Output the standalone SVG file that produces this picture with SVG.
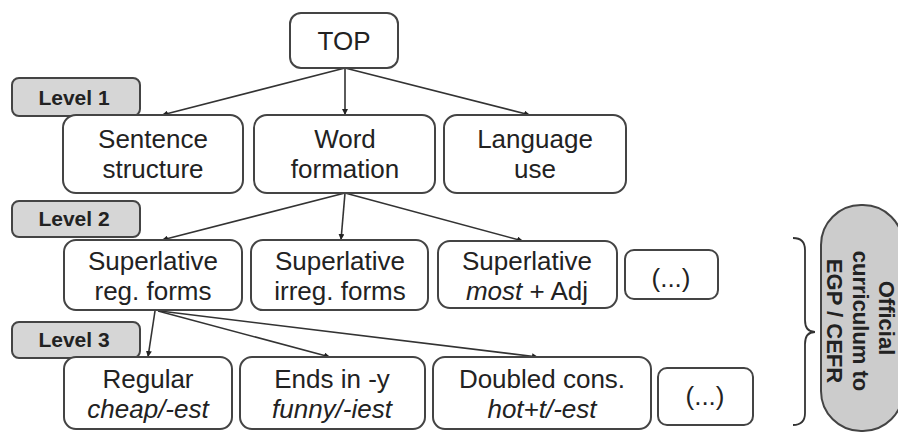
<svg xmlns="http://www.w3.org/2000/svg" width="898" height="434" viewBox="0 0 898 434">
<style>
.node{fill:#fff;stroke:#444;stroke-width:2}
.tab{fill:#d6d6d6;stroke:#444;stroke-width:2}
.t{font-family:"Liberation Sans",Arial,sans-serif;font-size:26px;fill:#222;text-anchor:middle}
.i{font-style:italic}
.lv{font-family:"Liberation Sans",Arial,sans-serif;font-size:21px;font-weight:bold;fill:#222;text-anchor:middle}
.pt{font-family:"Liberation Sans",Arial,sans-serif;font-size:22px;font-weight:bold;fill:#222;text-anchor:middle}
.e{fill:none;stroke:#333;stroke-width:1.6;marker-end:url(#ah)}
</style>
<defs>
<marker id="ah" viewBox="0 0 10 10" refX="10" refY="5" markerWidth="6" markerHeight="6" markerUnits="userSpaceOnUse" orient="auto">
<path d="M0,0 L10,5 L0,10 z" fill="#222"/>
</marker>
</defs>
<rect width="898" height="434" fill="#fff"/>
<g id="tabs">
<g id="level1"><rect class="tab" x="12" y="78" width="128" height="38" rx="7"/><text class="lv" x="74" y="105">Level 1</text></g>
<g id="level2"><rect class="tab" x="12" y="201" width="128" height="36" rx="7"/><text class="lv" x="74" y="226">Level 2</text></g>
<g id="level3"><rect class="tab" x="12" y="322" width="128" height="36" rx="7"/><text class="lv" x="74" y="347">Level 3</text></g>
</g>
<g id="connectors">
<line class="e" x1="345" y1="68" x2="162" y2="115"/>
<line class="e" x1="345" y1="68" x2="345" y2="115"/>
<line class="e" x1="345" y1="68" x2="530" y2="115"/>
<line class="e" x1="345" y1="193" x2="162" y2="240"/>
<line class="e" x1="345" y1="193" x2="341" y2="240"/>
<line class="e" x1="345" y1="193" x2="523" y2="241"/>
<line class="e" x1="155" y1="311" x2="148" y2="357"/>
<line class="e" x1="158" y1="311" x2="330" y2="357"/>
<line class="e" x1="160" y1="311" x2="538" y2="357"/>
</g>
<g id="top"><rect class="node" x="290" y="13" width="108" height="55" rx="11"/><text class="t" x="344" y="50">TOP</text></g>
<g id="sentence"><rect class="node" x="63" y="115" width="180" height="78" rx="13"/><text class="t" x="153" y="148">Sentence</text><text class="t" x="153" y="178">structure</text></g>
<g id="word"><rect class="node" x="254" y="115" width="181" height="78" rx="13"/><text class="t" x="345" y="148">Word</text><text class="t" x="345" y="178">formation</text></g>
<g id="language"><rect class="node" x="444" y="115" width="182" height="78" rx="13"/><text class="t" x="535" y="148">Language</text><text class="t" x="535" y="178">use</text></g>
<g id="supreg"><rect class="node" x="64" y="240" width="178" height="70" rx="12"/><text class="t" x="153" y="270">Superlative</text><text class="t" x="153" y="300">reg. forms</text></g>
<g id="supirreg"><rect class="node" x="251" y="240" width="177" height="70" rx="12"/><text class="t" x="340" y="270">Superlative</text><text class="t" x="340" y="300">irreg. forms</text></g>
<g id="supmost"><rect class="node" x="438" y="241" width="179" height="67" rx="12"/><text class="t" x="527" y="270">Superlative</text><text class="t" x="527" y="300"><tspan class="i">most</tspan> + Adj</text></g>
<g id="etc2"><rect class="node" x="625" y="250" width="93" height="49" rx="9"/><text class="t" x="671" y="287">(...)</text></g>
<g id="regular"><rect class="node" x="64" y="357" width="168" height="72" rx="12"/><text class="t" x="148" y="388">Regular</text><text class="t i" x="148" y="418">cheap/-est</text></g>
<g id="endsy"><rect class="node" x="240" y="357" width="185" height="72" rx="12"/><text class="t" x="332" y="388">Ends in -y</text><text class="t i" x="332" y="418">funny/-iest</text></g>
<g id="doubled"><rect class="node" x="433" y="357" width="218" height="72" rx="12"/><text class="t" x="542" y="388">Doubled cons.</text><text class="t i" x="542" y="418">hot+t/-est</text></g>
<g id="etc3"><rect class="node" x="658" y="368" width="95" height="57" rx="9"/><text class="t" x="705" y="405">(...)</text></g>
<g id="brace"><path d="M793 238 Q805 238 805 250 L805 320 Q805 332 815 332 Q805 332 805 344 L805 413 Q805 425 793 425" fill="none" stroke="#333" stroke-width="1.8"/></g>
<g id="curriculum"><rect x="821" y="205" width="82" height="226" rx="40" fill="#cccccc" stroke="#444" stroke-width="2"/>
<g transform="translate(858,321) rotate(90)"><text class="pt" x="-3" y="-21">Official</text><text class="pt" x="0" y="5">curriculum to</text><text class="pt" x="0" y="31">EGP / CEFR</text></g>
</g>
</svg>
